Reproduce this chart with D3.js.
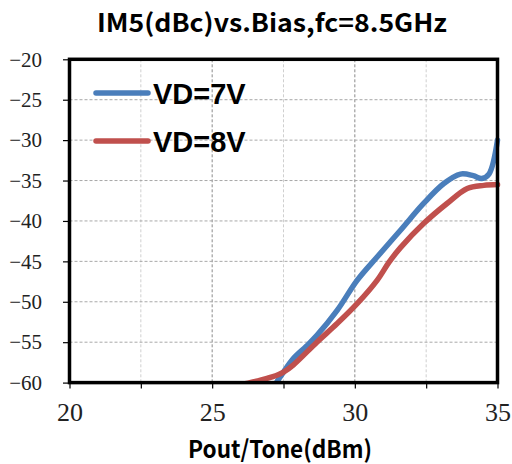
<!DOCTYPE html>
<html><head><meta charset="utf-8">
<script src="https://cdn.jsdelivr.net/npm/d3@7"></script>
<style>body{margin:0;background:#fff}</style>
</head><body>
<svg id="c" width="512" height="464"></svg>
<script>
const xTicks = [20, 25, 30, 35];
const xMinorTicks = [22.5, 27.5, 32.5];
const yTicks = [-20, -25, -30, -35, -40, -45, -50, -55, -60];
const seriesNames = ["VD=7V", "VD=8V"];
const seriesColors = ["#4a7ebb", "#c0504d"];
const vd7 = [[27.0,-61.5],[27.25,-60.0],[27.5,-58.7],[27.85,-57.0],[28.3,-55.5],[28.67,-54.16],[29.38,-51.07],[30.08,-47.35],[30.78,-44.46],[31.6,-41.15],[32.41,-37.84],[33.12,-35.37],[33.7,-34.2],[34.15,-34.4],[34.45,-34.75],[34.7,-34.2],[35.0,-30.0]];
const vd8 = [[25.8,-60.4],[26.6,-59.8],[27.1,-59.3],[27.5,-58.7],[27.85,-57.8],[28.67,-55.0],[29.38,-52.7],[30.08,-50.24],[30.78,-47.35],[31.2,-45.1],[31.6,-43.3],[32.41,-40.32],[33.23,-37.84],[33.94,-35.98],[34.52,-35.6],[35.0,-35.5]];
const series = [vd7, vd8];

const svg = d3.select("#c");
const L = 69.5, R = 497.5, T = 59.3, B = 382.6;
const x = d3.scaleLinear().domain([20, 35]).range([L, R]);
const y = d3.scaleLinear().domain([-60, -20]).range([B, T]);

// grid
const g = svg.append("g");
g.selectAll(".vg").data(xMinorTicks).enter().append("line")
  .attr("x1", d => x(d)).attr("x2", d => x(d)).attr("y1", T).attr("y2", B)
  .attr("stroke", "#cfcfcf").attr("stroke-width", 1).attr("stroke-dasharray", "3,2");
g.selectAll(".vg2").data([25, 30]).enter().append("line")
  .attr("x1", d => x(d)).attr("x2", d => x(d)).attr("y1", T).attr("y2", B)
  .attr("stroke", "#8a8a8a").attr("stroke-width", 1).attr("stroke-dasharray", "3,2");
g.selectAll(".hg").data(yTicks.filter(d => d > -60 && d < -20)).enter().append("line")
  .attr("x1", L).attr("x2", R).attr("y1", d => y(d)).attr("y2", d => y(d))
  .attr("stroke", "#a8a8a8").attr("stroke-width", 1).attr("stroke-dasharray", "3,2");

// curves
svg.append("clipPath").attr("id", "clip").append("rect")
  .attr("x", L).attr("y", T - 20).attr("width", R - L + 4).attr("height", B - T + 20);
const line = d3.line().x(d => x(d[0])).y(d => y(d[1])).curve(d3.curveCatmullRom.alpha(0.5));
series.forEach((s, i) => {
  svg.append("path").datum(s).attr("d", line).attr("fill", "none")
    .attr("stroke", seriesColors[i]).attr("stroke-width", 5.5)
    .attr("stroke-linecap", "round").attr("clip-path", "url(#clip)");
});

// axes
const fontSerif = "'Liberation Serif', 'DejaVu Serif', serif";
const yAxis = d3.axisLeft(y).tickValues(yTicks).tickSize(6.5).tickPadding(21)
  .tickFormat(d => String(d).replace("-", "\u2212"));
const ya = svg.append("g").attr("transform", `translate(${L},0)`).call(yAxis);
const xAxis = d3.axisBottom(x).tickValues(xTicks.concat(xMinorTicks)).tickSize(6).tickPadding(14)
  .tickFormat(d => xTicks.includes(d) ? d : "");
const xa = svg.append("g").attr("transform", `translate(0,${B})`).call(xAxis);
[ya, xa].forEach(a => {
  a.select(".domain").remove();
  a.selectAll(".tick line").attr("stroke", "#000").attr("stroke-width", 1.2);
  a.selectAll("text").attr("font-family", fontSerif).attr("fill", "#222");
});
ya.selectAll("text").attr("font-size", 21);
xa.selectAll("text").attr("font-size", 26);

// frame
svg.append("rect").attr("x", L).attr("y", T).attr("width", R - L).attr("height", B - T)
  .attr("fill", "none").attr("stroke", "#000").attr("stroke-width", 3.5);

// legend
const lg = svg.append("g");
seriesNames.forEach((n, i) => {
  const yy = 93 + i * 48;
  lg.append("line").attr("x1", 96).attr("x2", 148).attr("y1", yy).attr("y2", yy)
    .attr("stroke", seriesColors[i]).attr("stroke-width", 5.5).attr("stroke-linecap", "round");
  lg.append("text").attr("x", 153).attr("y", yy + 11).text(n)
    .attr("font-family", "'Liberation Sans', Arial, sans-serif").attr("font-weight", "bold")
    .attr("font-size", 29).attr("fill", "#000");
});

// title & x label
const cjk = "'Noto Sans CJK SC', sans-serif";
svg.append("text").attr("x", 272).attr("y", 32).attr("text-anchor", "middle")
  .attr("font-family", cjk).attr("font-weight", "bold").attr("font-size", 25)
  .attr("textLength", 350).attr("lengthAdjust", "spacingAndGlyphs")
  .text("IM5(dBc)vs.Bias,fc=8.5GHz");
svg.append("text").attr("x", 280).attr("y", 458).attr("text-anchor", "middle")
  .attr("font-family", cjk).attr("font-weight", "bold").attr("font-size", 24)
  .attr("textLength", 184).attr("lengthAdjust", "spacingAndGlyphs")
  .text("Pout/Tone(dBm)");
</script>
</body></html>
